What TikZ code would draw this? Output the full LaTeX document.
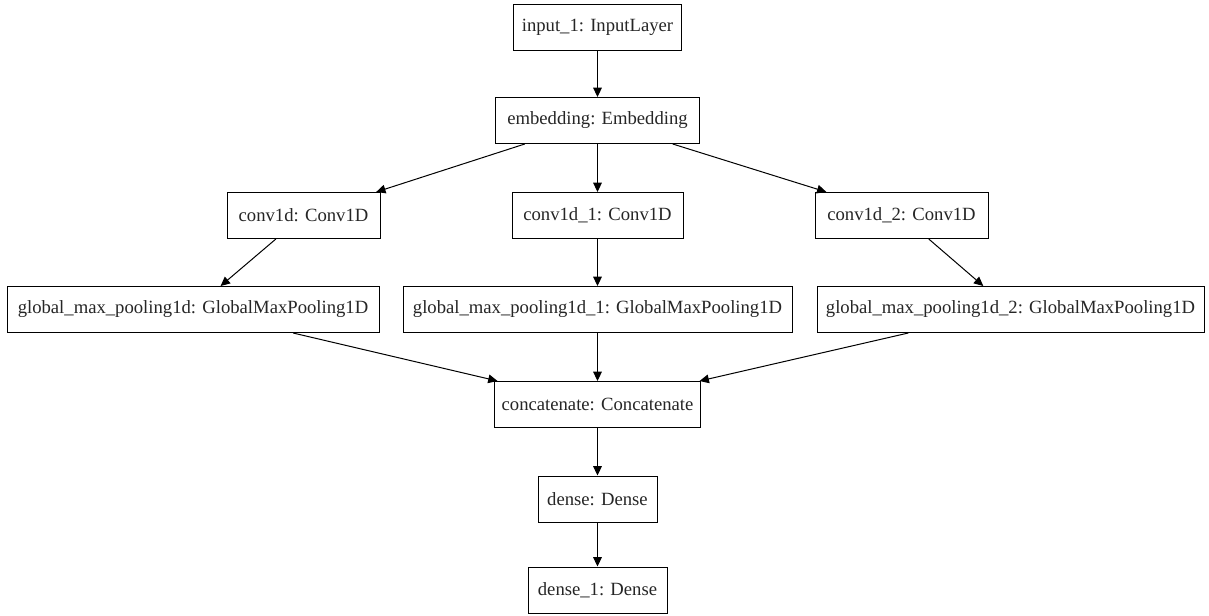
\documentclass[tikz,border=0pt]{standalone}
\usepackage{fontspec}
\setmainfont{Liberation Serif}
\usepackage{tikz}
\usetikzlibrary{positioning,arrows.meta}
\tikzset{
  layerbox/.style={draw=black, line width=0.75pt, fill=white, align=center, minimum height=34.5pt, inner sep=0pt, font=\fontsize{14}{16}\selectfont, text=black!85},
  flowarr/.style={-{Triangle[length=7pt, width=6.5pt]}, line width=0.75pt, draw=black}
}
\begin{document}
\begin{tikzpicture}[x=0.75pt, y=-0.75pt]
\useasboundingbox (0,0) rectangle (1209,616);
\node[layerbox, minimum width=126pt] (inp) at (597.5,27.5) {input\_1: InputLayer};
\node[layerbox, minimum width=153pt] (emb) at (597.5,120.5) {embedding: Embedding};
\node[layerbox, minimum width=114.75pt] (cva) at (303.5,215.5) {conv1d: Conv1D};
\node[layerbox, minimum width=128.25pt] (cvb) at (597.5,215.5) {conv1d\_1: Conv1D};
\node[layerbox, minimum width=129.75pt] (cvc) at (901.5,215.5) {conv1d\_2: Conv1D};
\node[layerbox, minimum width=279pt] (gpa) at (193,309.5) {global\_max\_pooling1d: GlobalMaxPooling1D};
\node[layerbox, minimum width=291.75pt] (gpb) at (597.5,309.5) {global\_max\_pooling1d\_1: GlobalMaxPooling1D};
\node[layerbox, minimum width=290.25pt] (gpc) at (1010.5,309.5) {global\_max\_pooling1d\_2: GlobalMaxPooling1D};
\node[layerbox, minimum width=154.5pt] (cat) at (597.5,404.5) {concatenate: Concatenate};
\node[layerbox, minimum width=89.25pt] (dns) at (597.5,499) {dense: Dense};
\node[layerbox, minimum width=104.25pt] (out) at (597.5,590) {dense\_1: Dense};
% edges
\draw[flowarr] (inp) -- (emb);
\draw[flowarr] (emb) -- (cva);
\draw[flowarr] (emb) -- (cvb);
\draw[flowarr] (emb) -- (cvc);
\draw[flowarr] (cva) -- (gpa);
\draw[flowarr] (cvb) -- (gpb);
\draw[flowarr] (cvc) -- (gpc);
\draw[flowarr] (gpa) -- (cat);
\draw[flowarr] (gpb) -- (cat);
\draw[flowarr] (gpc) -- (cat);
\draw[flowarr] (cat) -- (dns);
\draw[flowarr] (dns) -- (out);
\end{tikzpicture}
\end{document}
